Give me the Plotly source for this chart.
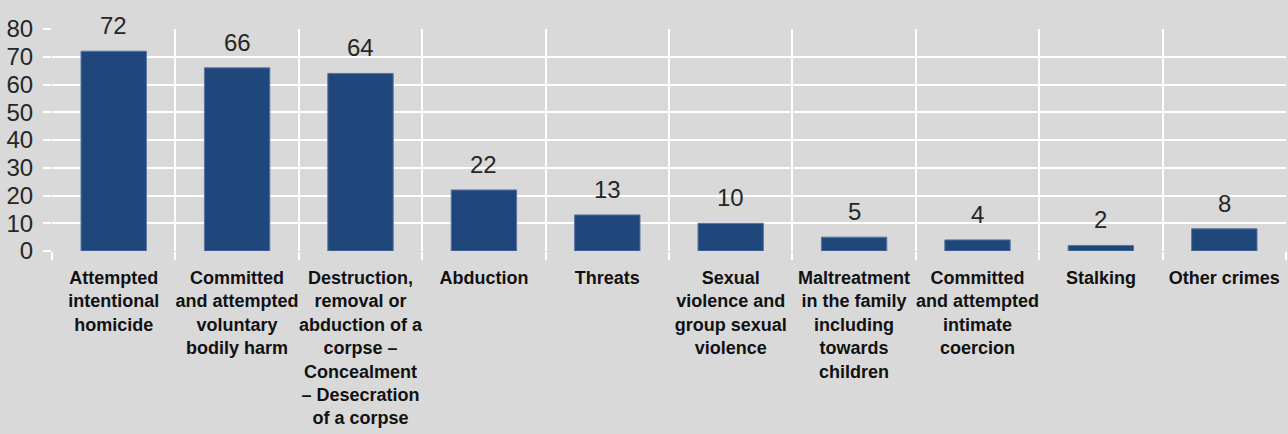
import plotly.graph_objects as go

categories = ["c1", "c2", "c3", "c4", "c5", "c6", "c7", "c8", "c9", "c10"]
labels = [
    "Attempted<br>intentional<br>homicide",
    "Committed<br>and attempted<br>voluntary<br>bodily harm",
    "Destruction,<br>removal or<br>abduction of a<br>corpse –<br>Concealment<br>– Desecration<br>of a corpse",
    "Abduction",
    "Threats",
    "Sexual<br>violence and<br>group sexual<br>violence",
    "Maltreatment<br>in the family<br>including<br>towards<br>children",
    "Committed<br>and attempted<br>intimate<br>coercion",
    "Stalking",
    "Other crimes",
]
values = [72, 66, 64, 22, 13, 10, 5, 4, 2, 8]
y_ticks = [0, 10, 20, 30, 40, 50, 60, 70, 80]

BG = "#d9d9d9"
BAR = "#1f477b"
NARROW = "Liberation Sans Narrow, Arial Narrow, Liberation Sans, sans-serif"

fig = go.Figure()
fig.add_trace(go.Bar(
    x=categories, y=values,
    marker=dict(color=BAR, line=dict(color="#5a76a0", width=1)),
    width=0.53,
    hoverinfo="skip",
))

for c, v in zip(categories, values):
    fig.add_annotation(
        x=c, y=v, text=str(v), showarrow=False,
        yanchor="bottom", yshift=10,
        font=dict(family=NARROW, size=24, color="#262626"),
    )

fig.update_layout(
    width=1288, height=434,
    margin=dict(l=52, r=2, t=29, b=183),
    paper_bgcolor=BG, plot_bgcolor=BG,
    showlegend=False,
    xaxis=dict(
        type="category",
        tickmode="array", tickvals=categories, ticktext=labels,
        tickson="boundaries",
        showgrid=True, gridcolor="white", gridwidth=1.5,
        ticks="outside", ticklen=8, tickcolor="white", tickwidth=1.5,
        tickfont=dict(family="Liberation Sans, Arial, sans-serif", size=18, color="#111111", weight="bold"),
        tickangle=0, ticklabelstandoff=14,
        showline=False, zeroline=False,
    ),
    yaxis=dict(
        range=[0, 80],
        tickmode="array", tickvals=y_ticks,
        showgrid=True, gridcolor="white", gridwidth=1.5,
        ticks="outside", ticklen=8, tickcolor="white", tickwidth=1.5,
        tickfont=dict(family=NARROW, size=24, color="#262626"),
        ticklabelstandoff=5,
        showline=False, zeroline=False,
    ),
)

fig.write_html(
    "out.html",
    config={"displayModeBar": False},
    post_script="document.body.style.margin='0';document.body.style.background='#d9d9d9';document.body.style.overflow='hidden';",
)
